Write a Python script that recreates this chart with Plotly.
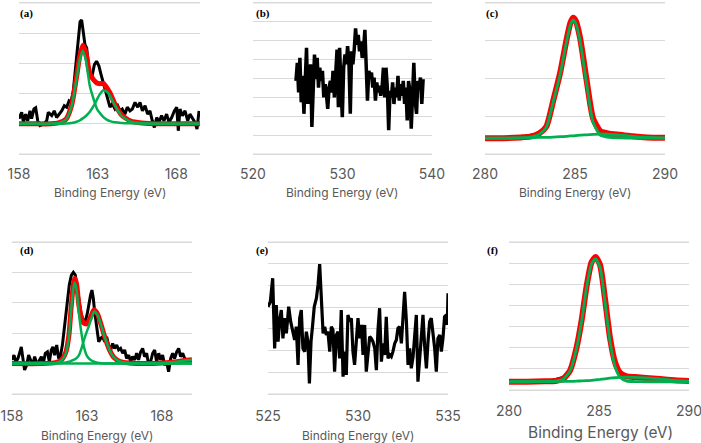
import plotly.graph_objects as go

W, H = 701, 443

# ---------------- data ----------------
# (a) S 2p, sample 1
a_raw_E = [158.0,158.17,158.28,158.42,158.55,158.70,158.80,158.95,159.06,159.19,
           159.33,159.55,159.76,159.86,160.08,160.24,160.39,160.54,160.71,160.88,
           161.03,161.18,161.30,161.45,161.60,161.73,161.88,161.98,162.09,162.19,
           162.30,162.45,162.62,162.79,162.93,163.08,163.21,163.32,163.46,163.63,
           163.78,163.93,164.10,164.27,164.42,164.56,164.73,164.88,165.05,165.20,
           165.37,165.54,165.69,165.84,166.01,166.17,166.32,166.47,166.60,166.75,
           166.89,167.06,167.21,167.38,167.53,167.70,167.87,168.02,168.12,168.23,
           168.38,168.55,168.72,168.86,169.01,169.18,169.31,169.44]
a_raw_I = [1.17,1.38,1.05,1.32,1.10,1.43,1.17,1.49,1.53,1.10,
           0.94,0.99,1.10,1.38,1.27,1.43,1.21,1.32,1.43,1.60,
           1.55,1.76,1.71,2.09,2.96,3.62,4.38,4.44,4.06,3.62,
           3.51,2.75,2.53,2.96,3.07,2.91,2.64,2.42,2.15,1.88,
           1.55,1.66,1.49,1.60,1.43,1.49,1.32,1.55,1.43,1.49,
           1.71,1.55,1.71,1.43,1.60,1.32,1.43,1.10,0.88,1.21,
           1.05,1.27,1.10,1.32,1.05,1.21,1.43,1.55,0.77,1.49,
           1.27,1.43,1.10,1.32,1.17,1.05,0.83,1.43]
a_fit_E = [158,159,160,160.5,161.0,161.35,161.66,161.85,162.05,162.25,162.5,162.75,
           162.95,163.1,163.36,163.6,163.78,164.1,164.5,165.1,165.8,167,168,169.5]
a_env = [1.0,1.0,1.0,1.03,1.16,1.63,2.57,3.21,3.6,3.36,2.65,2.45,
         2.35,2.33,2.33,2.18,2.02,1.65,1.3,1.09,1.03,1.0,1.0,1.0]
a_c1 = [1.0,1.0,1.0,1.03,1.15,1.6,2.5,3.1,3.42,3.1,2.25,1.8,
        1.5,1.38,1.22,1.13,1.09,1.05,1.03,1.02,1.01,1.0,1.0,1.0]
a_c2 = [1.0,1.0,1.0,1.0,1.01,1.03,1.07,1.11,1.18,1.26,1.4,1.6,
        1.8,1.95,2.11,2.05,1.93,1.6,1.27,1.07,1.02,1.0,1.0,1.0]

# (b) O 1s, sample 1
b_raw_E = [524.80,524.95,525.10,525.24,525.39,525.54,525.69,525.84,525.98,526.13,
           526.28,526.43,526.58,526.72,526.87,527.02,527.17,527.32,527.46,527.61,
           527.76,527.91,528.06,528.20,528.35,528.50,528.65,528.80,528.94,529.09,
           529.24,529.39,529.54,529.68,529.83,529.98,530.13,530.28,530.42,530.57,
           530.72,530.87,531.02,531.16,531.31,531.46,531.61,531.76,531.90,532.05,
           532.20,532.35,532.50,532.64,532.79,532.94,533.09,533.24,533.38,533.53,
           533.68,533.83,533.98,534.12,534.27,534.42,534.57,534.72,534.86,535.01,
           535.16,535.31,535.46,535.60,535.75,535.90,536.05,536.20,536.34,536.49,
           536.64,536.79,536.94,537.08,537.23,537.38,537.53,537.68,537.82,537.97,
           538.12,538.27,538.42,538.56,538.71,538.86,539.01]
b_raw_I = [3.87,4.83,3.26,5.09,2.74,4.14,2.13,3.96,5.62,2.65,
           3.96,4.75,1.43,3.52,5.27,3.96,5.09,3.52,4.57,3.87,
           4.40,3.00,3.70,3.18,2.39,3.52,3.87,3.26,4.40,3.00,
           4.75,5.53,2.48,5.62,3.52,1.95,4.57,5.27,4.75,5.71,
           4.83,2.13,5.44,4.75,5.53,6.66,5.79,6.31,5.44,5.97,
           5.09,5.53,6.58,4.75,2.83,4.40,4.14,4.31,3.52,4.05,
           2.83,3.79,3.26,3.61,3.09,3.52,4.57,3.00,4.57,3.52,
           1.26,3.35,3.00,3.79,2.65,3.52,3.00,4.14,2.83,3.70,
           3.09,3.87,2.65,3.52,1.78,3.87,3.35,1.34,3.70,4.83,
           2.83,2.13,3.87,3.52,4.05,2.65,3.96]

# (c) C 1s, sample 1
c_raw_E = [280,281,282,282.5,282.8,283.1,283.4,283.8,284.17,284.54,284.75,284.9,
           285.05,285.28,285.65,286.0,286.4,286.9,287.5,288.2,289,290]
c_raw_I = [0.42,0.42,0.45,0.5,0.52,0.6,0.74,1.43,2.14,3.05,3.48,3.61,
           3.52,3.08,1.94,0.95,0.61,0.54,0.51,0.47,0.44,0.43]
c_fit_E = [280,281,282,282.5,283,283.4,283.8,284.17,284.54,284.75,284.9,
           285.05,285.28,285.65,286.0,286.4,286.9,287.5,288.2,289,290]
c_env = [0.42,0.42,0.44,0.46,0.54,0.72,1.43,2.14,3.05,3.48,3.61,
         3.52,3.08,1.94,0.95,0.61,0.54,0.51,0.47,0.44,0.43]
c_c1 = [0.42,0.42,0.43,0.45,0.52,0.7,1.4,2.1,3.0,3.42,3.55,
        3.45,3.0,1.85,0.85,0.5,0.44,0.43,0.42,0.42,0.42]
c_c2 = [0.42,0.42,0.43,0.43,0.44,0.44,0.45,0.46,0.47,0.48,0.48,
        0.49,0.5,0.51,0.52,0.53,0.52,0.5,0.47,0.44,0.43]

# (d) S 2p, sample 2
d_raw_E = [158.0,158.13,158.27,158.4,158.53,158.62,158.71,158.84,158.98,159.11,
           159.24,159.38,159.51,159.69,159.84,159.96,160.09,160.22,160.36,160.49,
           160.62,160.73,160.84,160.98,161.11,161.24,161.36,161.51,161.67,161.82,
           161.96,162.09,162.22,162.36,162.49,162.62,162.76,162.89,163.02,163.13,
           163.24,163.33,163.42,163.51,163.6,163.69,163.78,163.91,164.04,164.18,
           164.31,164.44,164.58,164.71,164.84,164.98,165.11,165.24,165.38,165.51,
           165.64,165.78,165.91,166.04,166.18,166.31,166.44,166.58,166.71,166.84,
           166.98,167.11,167.24,167.38,167.51,167.64,167.78,167.91,168.04,168.18,
           168.31,168.44,168.58,168.71,168.84,168.98,169.11,169.24,169.38,169.51,
           169.64,169.84]
d_raw_I = [1.12,1.28,1.06,1.17,1.39,1.55,1.23,0.79,0.95,1.28,
           1.12,0.95,1.23,0.95,1.12,1.23,1.01,1.34,1.39,1.06,
           1.45,1.55,1.28,1.61,1.17,1.28,1.61,2.27,2.93,3.59,
           3.91,4.0,3.91,3.48,3.04,2.6,2.43,2.38,2.65,3.04,
           3.26,3.42,3.15,2.71,2.38,2.05,1.72,1.83,1.88,1.72,
           1.88,1.61,1.45,1.66,1.5,1.61,1.45,1.5,1.34,1.45,
           1.17,1.28,1.06,1.23,1.12,1.34,1.12,1.39,1.5,1.23,
           1.34,0.95,1.06,1.34,1.45,1.06,1.34,1.12,1.28,0.95,
           1.06,0.73,1.17,1.34,1.17,1.39,1.5,1.23,1.34,1.17,
           1.12,1.06]
d_fit_E = [158,160,160.9,161.3,161.6,161.8,161.95,162.1,162.18,162.3,162.45,162.6,
           162.75,162.95,163.1,163.3,163.47,163.7,163.95,164.2,164.5,164.8,165.2,
           165.8,167,168,169,169.5,170]
d_env = [1.0,1.0,1.03,1.12,1.39,1.96,2.89,3.62,3.81,3.63,2.96,2.55,
         2.35,2.3,2.38,2.6,2.77,2.63,2.26,1.85,1.45,1.2,1.07,
         1.02,1.0,1.02,1.06,1.1,1.13]
d_c1 = [1.0,1.0,1.02,1.1,1.35,1.9,2.8,3.5,3.67,3.45,2.7,2.1,
        1.65,1.3,1.18,1.1,1.06,1.03,1.01,1.0,1.0,1.0,1.0,
        1.0,1.0,1.0,1.0,1.0,1.0]
d_c2 = [1.0,1.0,1.01,1.02,1.04,1.06,1.09,1.12,1.14,1.18,1.26,1.45,
        1.7,2.0,2.2,2.5,2.71,2.6,2.25,1.85,1.45,1.2,1.07,
        1.02,1.0,1.0,1.0,1.0,1.0]
d_c3_E = [158,166,167,168,169,169.5,170]
d_c3 = [1.0,1.0,1.0,1.02,1.06,1.1,1.13]

# (e) O 1s, sample 2
e_raw_E = [525.0,525.13,525.26,525.37,525.46,525.56,525.65,525.74,525.83,525.93,
           526.02,526.15,526.26,526.37,526.48,526.57,526.67,526.76,526.85,526.94,
           527.04,527.13,527.22,527.3,527.39,527.48,527.57,527.69,527.78,527.87,
           527.96,528.06,528.15,528.24,528.33,528.43,528.52,528.61,528.7,528.8,
           528.89,528.98,529.07,529.17,529.26,529.35,529.44,529.54,529.63,529.72,
           529.81,529.91,530.0,530.09,530.19,530.28,530.37,530.46,530.56,530.65,
           530.74,530.83,530.93,531.02,531.11,531.2,531.3,531.39,531.48,531.57,
           531.67,531.76,531.85,531.94,532.04,532.13,532.22,532.31,532.41,532.5,
           532.59,532.69,532.78,532.87,532.96,533.06,533.15,533.24,533.33,533.43,
           533.52,533.61,533.7,533.8,533.89,533.98,534.07,534.17,534.26,534.35,
           534.44,534.54,534.63,534.72,534.81,534.91,534.96,535.0]
e_raw_I = [4.02,4.25,5.33,2.1,4.1,2.41,3.41,3.87,2.56,3.49,
           2.79,4.02,3.33,2.87,2.49,3.1,1.34,3.49,3.87,2.1,
           1.95,2.87,2.41,0.49,2.41,3.18,4.02,4.41,5.02,5.98,
           4.71,2.79,3.1,2.72,2.87,1.95,3.1,2.95,1.03,2.72,
           2.87,1.64,3.87,0.8,1.95,0.88,3.64,3.33,3.49,1.95,
           1.34,2.72,3.49,2.56,3.18,1.8,3.18,1.03,1.8,2.64,
           2.56,2.41,2.1,1.1,2.95,3.95,1.49,2.33,1.8,3.56,
           1.64,1.8,1.72,1.95,2.33,2.49,3.03,3.1,2.33,3.33,
           4.71,3.33,1.34,2.1,1.18,1.72,2.56,3.64,0.57,1.8,
           2.56,3.64,2.25,1.18,2.41,3.33,3.49,2.87,2.1,1.03,
           2.56,2.72,1.95,2.56,3.56,3.64,3.18,4.64]

# (f) C 1s, sample 2
f_raw_E = [280,281.5,282.0,282.3,282.6,282.9,283.1,283.39,283.76,284.04,284.31,284.59,
           284.81,285.06,285.33,285.61,285.89,286.17,286.54,287,287.6,288.4,289.2,290]
f_raw_I = [0.39,0.41,0.44,0.45,0.5,0.56,0.62,0.95,2.03,3.32,4.9,6.05,
           6.29,5.91,4.34,2.47,1.31,0.81,0.64,0.61,0.57,0.52,0.46,0.42]
f_fit_E = [280,281,282,282.6,283.0,283.39,283.76,284.04,284.31,284.59,284.81,
           285.06,285.33,285.61,285.89,286.17,286.54,287,287.6,288.4,289.2,290]
f_env = [0.39,0.39,0.41,0.43,0.52,0.92,2.03,3.32,4.9,6.05,6.29,
         5.91,4.34,2.47,1.31,0.81,0.64,0.61,0.57,0.52,0.46,0.42]
f_c1 = [0.39,0.39,0.4,0.42,0.5,0.9,2.0,3.28,4.85,5.98,6.2,
        5.8,4.2,2.3,1.12,0.6,0.42,0.4,0.39,0.39,0.39,0.39]
f_c2 = [0.39,0.39,0.4,0.4,0.41,0.41,0.42,0.43,0.44,0.46,0.48,
        0.5,0.53,0.56,0.58,0.6,0.61,0.6,0.57,0.52,0.46,0.42]

x_ranges = [[158, 169.5], [520, 540], [280, 290], [158, 170], [525, 535], [280, 290]]
x_ticks = [[158, 163, 168], [520, 530, 540], [280, 285, 290],
           [158, 163, 168], [525, 530, 535], [280, 285, 290]]
y_tops = [5, 8, 4, 5, 7, 7]
panel_labels = ["(a)", "(b)", "(c)", "(d)", "(e)", "(f)"]
x_title = "Binding Energy (eV)"

# ---------------- layout geometry (pixels) ----------------
boxes = [(19, 200, 1, 154), (253, 432, 1, 154), (485, 665, 1, 154),
         (12, 192, 242, 394), (268, 448, 242, 394), (509, 689, 242, 390)]
label_pos = [(26, 13), (263, 13), (492, 13), (27, 250), (262, 250), (492, 250)]
title_pos = [(110, 193, 12), (342, 193, 12), (575, 193, 12),
             (97, 435, 12), (358, 435, 12), (600, 432, 15.5)]
tick_standoff = [7, 7, 7, 9, 9, 8]
PAD = 3  # extra pixels so edge gridlines are not clipped

BLACK, RED, GREEN = "#000000", "#FF0000", "#00B050"
GRID = "#D9D9D9"
TICK_FONT = dict(family="Inter, Noto Sans, sans-serif", size=14, color="#595959")

fig = go.Figure()


def add(E, I, k, color, width):
    sfx = "" if k == 0 else str(k + 1)
    fig.add_trace(go.Scatter(x=E, y=I, mode="lines", xaxis="x" + sfx, yaxis="y" + sfx,
                             line=dict(color=color, width=width, shape="spline", smoothing=0.6),
                             hoverinfo="skip", showlegend=False))


def add_raw(E, I, k, width=3):
    sfx = "" if k == 0 else str(k + 1)
    fig.add_trace(go.Scatter(x=E, y=I, mode="lines", xaxis="x" + sfx, yaxis="y" + sfx,
                             line=dict(color=BLACK, width=width),
                             hoverinfo="skip", showlegend=False))


# (a)
add_raw(a_raw_E, a_raw_I, 0)
add(a_fit_E, a_env, 0, RED, 5)
add(a_fit_E, a_c1, 0, GREEN, 2.5)
add(a_fit_E, a_c2, 0, GREEN, 2.5)
# (b)
add_raw(b_raw_E, b_raw_I, 1, 3.5)
# (c)
add_raw(c_raw_E, c_raw_I, 2)
add(c_fit_E, c_env, 2, RED, 6)
add(c_fit_E, c_c1, 2, GREEN, 2.8)
add(c_fit_E, c_c2, 2, GREEN, 2.8)
# (d)
add_raw(d_raw_E, d_raw_I, 3)
add(d_fit_E, d_env, 3, RED, 5)
add(d_fit_E, d_c1, 3, GREEN, 2.5)
add(d_fit_E, d_c2, 3, GREEN, 2.5)
add(d_c3_E, d_c3, 3, GREEN, 2.5)
# (e)
add_raw(e_raw_E, e_raw_I, 4, 3.2)
# (f)
add_raw(f_raw_E, f_raw_I, 5)
add(f_fit_E, f_env, 5, RED, 6)
add(f_fit_E, f_c1, 5, GREEN, 2.8)
add(f_fit_E, f_c2, 5, GREEN, 2.8)

layout = dict(width=W, height=H, margin=dict(l=0, r=0, t=0, b=0, autoexpand=False),
              paper_bgcolor="white", plot_bgcolor="white", showlegend=False)
annotations = []
shapes = []
for k in range(6):
    sfx = "" if k == 0 else str(k + 1)
    x0, x1, y0, y1 = boxes[k]
    ppu = (y1 - y0) / y_tops[k]
    ext = PAD / ppu
    # the last tick of panel (f) is partly cut by the right edge in the reference
    tv = x_ticks[k] if k != 5 else x_ticks[k][:-1]
    layout["xaxis" + sfx] = dict(
        domain=[x0 / W, x1 / W], range=x_ranges[k], anchor="y" + sfx, automargin=False,
        tickmode="array", tickvals=tv, showgrid=False, zeroline=False,
        showline=False, ticks="", ticklabelstandoff=tick_standoff[k], tickfont=TICK_FONT)
    layout["yaxis" + sfx] = dict(
        domain=[1 - (y1 + PAD) / H, min(1.0, 1 - (y0 - PAD) / H)],
        range=[-ext, y_tops[k] + ext], anchor="x" + sfx,
        automargin=False, dtick=1, tick0=0, showgrid=True, gridcolor=GRID, gridwidth=1,
        zeroline=False, showline=False, showticklabels=False, ticks="")
    # make sure the first and last gridlines (axis min / max) are present
    for yv in (0, y_tops[k]):
        shapes.append(dict(type="line", xref=("x" + sfx + " domain"), x0=0, x1=1,
                           yref="y" + sfx, y0=yv, y1=yv, layer="below",
                           line=dict(color=GRID, width=1)))
    lx, ly = label_pos[k]
    annotations.append(dict(text="<b>" + panel_labels[k] + "</b>", x=lx / W, y=1 - ly / H,
                            xref="paper", yref="paper", showarrow=False,
                            xanchor="center", yanchor="middle",
                            font=dict(family="Liberation Serif, serif", size=11, color="#000000")))
    tx, ty, ts = title_pos[k]
    annotations.append(dict(text=x_title, x=tx / W, y=1 - ty / H,
                            xref="paper", yref="paper", showarrow=False,
                            xanchor="center", yanchor="middle",
                            font=dict(family="Inter, Noto Sans, sans-serif", size=ts, color="#595959")))

# clipped "290" label of panel (f)
annotations.append(dict(text=str(x_ticks[5][-1]), x=x_ticks[5][-1], xref="x6",
                        y=1 - 410 / H, yref="paper", showarrow=False,
                        xanchor="center", yanchor="middle", font=TICK_FONT))
layout["annotations"] = annotations
layout["shapes"] = shapes
fig.update_layout(**layout)

fig.write_html("out.html")
